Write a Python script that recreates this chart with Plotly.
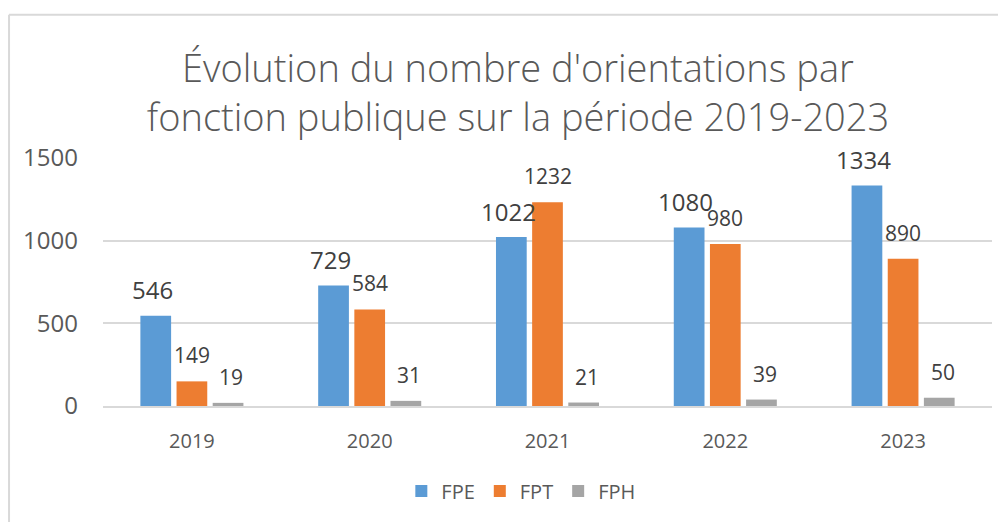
import plotly.graph_objects as go

years = ["2019", "2020", "2021", "2022", "2023"]
fpe = [546, 729, 1022, 1080, 1334]
fpt = [149, 584, 1232, 980, 890]
fph = [19, 31, 21, 39, 50]
series_names = ["FPE", "FPT", "FPH"]
colors = ["#5B9BD5", "#ED7D31", "#A5A5A5"]
label_sizes = [24, 21, 21]
label_xshift = [-39.5, 0, 39.5]

FONT = "Open Sans"
GREY = "#595959"

fig = go.Figure()
for name, vals, col in zip(series_names, [fpe, fpt, fph], colors):
    fig.add_trace(go.Bar(x=years, y=vals, name=name, marker_color=col,
                         marker_line_width=0))

# data labels: x is the category index on the category axis
for vals, size, xs in zip([fpe, fpt, fph], label_sizes, label_xshift):
    for i, v in enumerate(vals):
        fig.add_annotation(x=i, y=v, text=str(v), showarrow=False,
                           xshift=xs, yshift=26, yanchor="middle",
                           font=dict(family=FONT, size=size, color="#404040"))

# outer chart border (top & left visible)
fig.add_shape(type="line", xref="paper", yref="paper", x0=-0.1057, x1=1.03,
              y0=1.578, y1=1.578, line=dict(color="#d9d9d9", width=2))
fig.add_shape(type="line", xref="paper", yref="paper", x0=-0.1057, x1=-0.1057,
              y0=1.578, y1=-0.5, line=dict(color="#d9d9d9", width=2))

fig.update_layout(
    width=998, height=514,
    margin=dict(l=95, r=14, t=150, b=113),
    paper_bgcolor="white", plot_bgcolor="white",
    barmode="group", bargap=0.39, bargroupgap=0.15,
    title=dict(text="Évolution du nombre d'orientations par<br>fonction publique sur la période 2019-2023",
               x=0.511, xanchor="center", y=0.856, yanchor="middle",
               font=dict(family=FONT, size=38, color=GREY, weight=300)),
    font=dict(family=FONT, color=GREY),
    legend=dict(orientation="h", x=0.47, xanchor="center", y=-0.343, yanchor="middle",
                font=dict(family=FONT, size=20, color=GREY), itemwidth=30),
    xaxis=dict(type="category", showgrid=False, showline=True, linecolor="#d9d9d9",
               linewidth=1.5, ticks="", ticklabelstandoff=16,
               tickfont=dict(family=FONT, size=20, color=GREY)),
    yaxis=dict(range=[0, 1500], tickvals=[0, 500, 1000, 1500], showgrid=True,
               gridcolor="#d9d9d9", gridwidth=1.5, zeroline=False, showline=False,
               ticks="", ticklabelstandoff=24,
               tickfont=dict(family=FONT, size=24, color=GREY)),
    showlegend=True,
)

fig.write_html("out.html")
